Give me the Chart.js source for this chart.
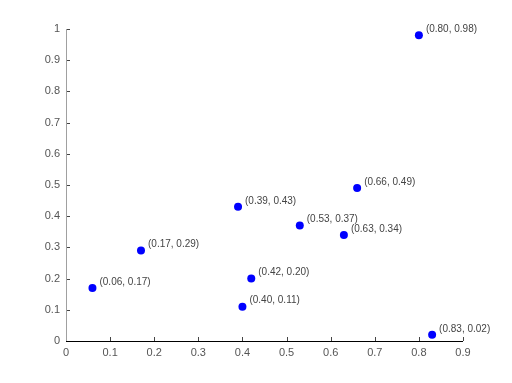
<!DOCTYPE html>
<html><head><meta charset="utf-8">
<script src="https://cdn.jsdelivr.net/npm/chart.js@4/dist/chart.umd.min.js"></script>
<style>html,body{margin:0;padding:0;background:#fff}#wrap{width:512px;height:383px}</style>
</head><body><div id="wrap"><canvas id="c" width="512" height="383"></canvas></div>
<script>
const xValues = [0.06, 0.17, 0.39, 0.42, 0.40, 0.53, 0.63, 0.66, 0.80, 0.83];
const yValues = [0.17, 0.29, 0.43, 0.20, 0.11, 0.37, 0.34, 0.49, 0.98, 0.02];
const xTicks = [0, 0.1, 0.2, 0.3, 0.4, 0.5, 0.6, 0.7, 0.8, 0.9];
const yTicks = [0, 0.1, 0.2, 0.3, 0.4, 0.5, 0.6, 0.7, 0.8, 0.9, 1];

const points = xValues.map((x, i) => ({x: x, y: yValues[i]}));
const fmt = v => v.toFixed(2);

const inwardTicks = {
  id: 'inwardTicks',
  afterDraw(chart) {
    const ctx = chart.ctx, xs = chart.scales.x, ys = chart.scales.y, a = chart.chartArea;
    ctx.save();
    ctx.strokeStyle = '#444'; ctx.lineWidth = 1;
    ctx.beginPath();
    xTicks.forEach(t => { const px = Math.round(xs.getPixelForValue(t)) + 0.5; ctx.moveTo(px, a.bottom); ctx.lineTo(px, a.bottom - 4); });
    yTicks.forEach(t => { const py = Math.round(ys.getPixelForValue(t)) + 0.5; ctx.moveTo(a.left, py); ctx.lineTo(a.left + 4, py); });
    ctx.stroke();
    ctx.strokeStyle = '#a0a0a0';
    ctx.beginPath(); ctx.moveTo(Math.round(a.left)+0.5, a.top); ctx.lineTo(Math.round(a.left)+0.5, a.bottom); ctx.stroke();
    ctx.strokeStyle = '#000';
    ctx.beginPath(); ctx.moveTo(a.left, Math.round(a.bottom)+0.5); ctx.lineTo(a.right, Math.round(a.bottom)+0.5); ctx.stroke();
    ctx.fillStyle = '#444';
    ctx.font = '10px "Liberation Sans", Arial, sans-serif';
    ctx.textBaseline = 'middle'; ctx.textAlign = 'left';
    points.forEach(p => {
      const px = xs.getPixelForValue(p.x), py = ys.getPixelForValue(p.y);
      ctx.fillText('(' + fmt(p.x) + ', ' + fmt(p.y) + ')', px + 7, py - 6);
    });
    ctx.restore();
  }
};

new Chart(document.getElementById('c'), {
  type: 'scatter',
  data: { datasets: [{ data: points, backgroundColor: '#0000ff', borderColor: '#0000ff', borderWidth: 0, pointRadius: 4, pointHoverRadius: 4 }] },
  options: {
    responsive: false, animation: false, devicePixelRatio: 1,
    layout: { padding: { top: 29, right: 49, left: 0, bottom: 0 } },
    plugins: { legend: { display: false }, tooltip: { enabled: false } },
    scales: {
      x: {
        type: 'linear', min: 0, max: 0.9,
        afterBuildTicks(s) { s.ticks = xTicks.map(v => ({value: v})); },
        afterFit(s) { s.height = 42; },
        grid: { display: false, drawTicks: false }, border: { display: false },
        ticks: { color: '#555', padding: 5, font: { size: 11, family: '"Liberation Sans", Arial, sans-serif' }, callback: v => String(v), maxRotation: 0 }
      },
      y: {
        type: 'linear', min: 0, max: 1,
        afterBuildTicks(s) { s.ticks = yTicks.map(v => ({value: v})); },
        afterFit(s) { s.width = 66; },
        grid: { display: false, drawTicks: false }, border: { display: false },
        ticks: { color: '#555', padding: 6, font: { size: 11, family: '"Liberation Sans", Arial, sans-serif' }, callback: v => String(v) }
      }
    }
  },
  plugins: [inwardTicks]
});
</script></body></html>
